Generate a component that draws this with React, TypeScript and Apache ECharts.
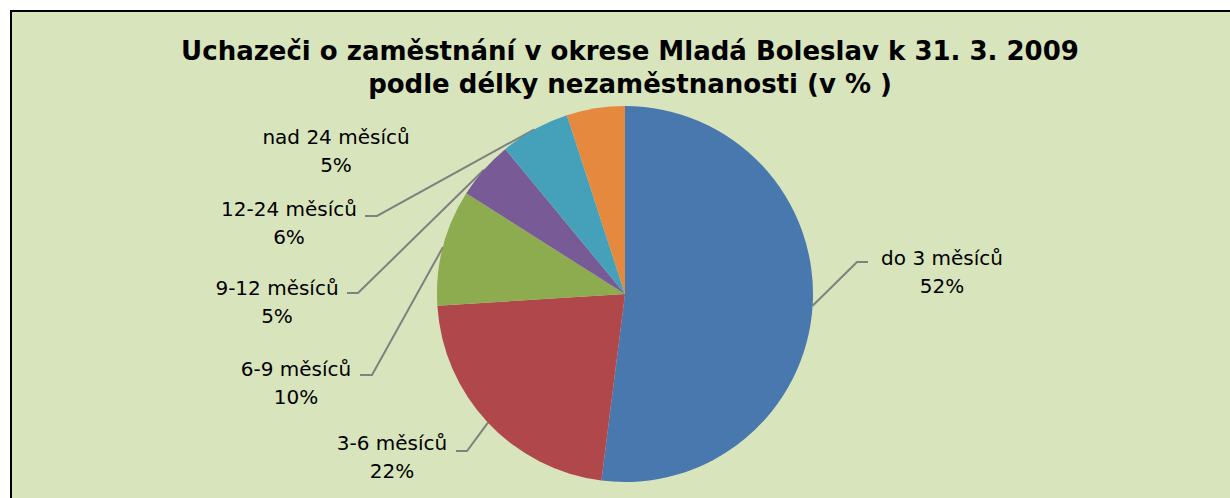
import React, { useEffect, useRef } from "react";
import * as echarts from "echarts";

const TITLE_LINES = [
  "Uchazeči o zaměstnání v okrese Mladá Boleslav k 31. 3. 2009",
  "podle délky nezaměstnanosti (v % )",
];
const CATEGORIES = [
  "do 3 měsíců",
  "3-6 měsíců",
  "6-9 měsíců",
  "9-12 měsíců",
  "12-24 měsíců",
  "nad 24 měsíců",
];
const VALUES = [52, 22, 10, 5, 6, 5];
const COLORS = ["#4878AE", "#B0474A", "#8DAB4F", "#775A96", "#45A0BA", "#E4893E"];

// label layout (positions only): label centre, elbow, end of leader
const LABEL_LAYOUT = [
  { x: 942, y: 272, elbow: [857, 262], end: [868, 262] },
  { x: 392, y: 457, elbow: [467, 451], end: [456, 451] },
  { x: 296, y: 383, elbow: [372, 375], end: [360, 375] },
  { x: 277, y: 302, elbow: [358, 293], end: [347, 293] },
  { x: 289, y: 223, elbow: [377, 216], end: [365, 216] },
  { x: 336, y: 151, elbow: null, end: null },
];

export default function App() {
  const ref = useRef<HTMLDivElement>(null);
  useEffect(() => {
    if (!ref.current) return;
    const chart = echarts.init(ref.current, null, { renderer: "svg" });
    chart.setOption({
      animation: false,
      backgroundColor: "#ffffff",
      graphic: [
        {
          type: "rect",
          z: -10,
          silent: true,
          shape: { x: 11, y: 11, width: 1240, height: 500 },
          style: { fill: "#D8E4BC", stroke: "#000000", lineWidth: 2 },
        },
      ],
      title: {
        text: TITLE_LINES.join("\n"),
        left: 625,
        top: 29,
        textAlign: "center",
        textStyle: {
          fontFamily: "DejaVu Sans",
          fontWeight: "bold",
          fontSize: 26,
          lineHeight: 33,
          color: "#000000",
        },
      },
      series: [
        {
          type: "pie",
          center: [625, 294],
          radius: 188,
          startAngle: 90,
          clockwise: true,
          data: CATEGORIES.map((name, i) => ({
            name,
            value: VALUES[i],
            itemStyle: { color: COLORS[i] },
            labelLine: { show: LABEL_LAYOUT[i].elbow !== null },
          })),
          label: {
            show: true,
            position: "outside",
            formatter: "{b}\n{c}%",
            fontFamily: "DejaVu Sans",
            fontSize: 20,
            lineHeight: 28,
            color: "#000000",
          },
          labelLine: {
            show: true,
            lineStyle: { color: "#808080", width: 2 },
          },
          labelLayout: (params: any) => {
            const L = LABEL_LAYOUT[params.dataIndex];
            const res: any = {
              x: L.x,
              y: L.y,
              align: "center",
              verticalAlign: "middle",
            };
            if (L.elbow && params.labelLinePoints) {
              res.labelLinePoints = [
                params.labelLinePoints[0],
                L.elbow,
                L.end,
              ];
            }
            return res;
          },
          emphasis: { disabled: true },
        },
      ],
    });
    return () => chart.dispose();
  }, []);
  return (
    <div
      ref={ref}
      style={{ position: "fixed", left: 0, top: 0, width: 1230, height: 498 }}
    />
  );
}
